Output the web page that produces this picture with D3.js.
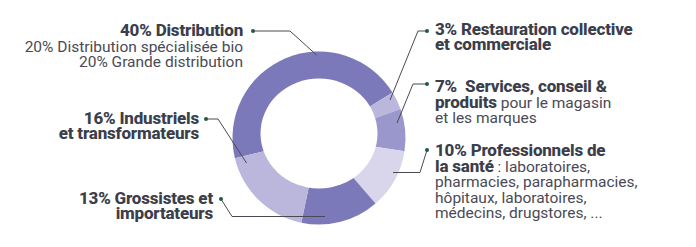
<!DOCTYPE html>
<html>
<head>
<meta charset="utf-8">
<script src="https://cdn.jsdelivr.net/npm/d3@7"></script>
<style>
  html, body { margin: 0; padding: 0; background: #fff; }
  svg { display: block; }
  svg text { white-space: pre; }
</style>
</head>
<body>
<div id="chart"></div>
<script>
// Customer segments (share of sales, %)
const categories = [
  "Distribution",
  "Restauration collective et commerciale",
  "Services, conseil & produits",
  "Professionnels de la santé",
  "Grossistes et importateurs",
  "Industriels et transformateurs"
];
const values = [40, 3, 7, 10, 13, 16];
const sliceColors = ["#7b79b9", "#bab6dc", "#9a97cc", "#d9d6ec", "#7b79b9", "#bab6dc"];

// Label text, line by line; each line is a list of [text, bold] runs
const labelLines = [
  [[["40% Distribution", true]],
   [["20% Distribution spécialisée bio", false]],
   [["20% Grande distribution", false]]],
  [[["3% Restauration collective", true]],
   [["et commerciale", true]]],
  [[["7%  Services, conseil &", true]],
   [["produits", true], [" pour le magasin", false]],
   [["et les marques", false]]],
  [[["10% Professionnels de", true]],
   [["la santé", true], [" : laboratoires,", false]],
   [["pharmacies, parapharmacies,", false]],
   [["hôpitaux, laboratoires,", false]],
   [["médecins, drugstores, ...", false]]],
  [[["13% Grossistes et", true]],
   [["importateurs", true]]],
  [[["16% Industriels", true]],
   [["et transformateurs", true]]]
];

// Layout: text anchor point, first baseline, and leader polyline (dot -> elbow -> ring)
const layout = [
  { x: 243, y: 36,  anchor: "end",   lead: [[253, 31], [290, 31], [316.5, 55]] },
  { x: 435, y: 34.5, anchor: "start", lead: [[427, 31], [418, 31], [390, 100]] },
  { x: 435, y: 92,  anchor: "start", lead: [[427, 84], [413, 84], [397, 123]] },
  { x: 435, y: 156, anchor: "start", lead: [[427, 150], [420, 172.5], [393, 172.5]] },
  { x: 213, y: 203.5, anchor: "end", lead: [[221, 199], [232, 216.5], [325, 216.5]] },
  { x: 199, y: 123.5, anchor: "end", lead: [[206, 119], [218, 119], [246.5, 163]] }
];

const W = 696, H = 247;
const cx = 319, cy = 138, outerR = 86.5;
const lineH = 15.6;

const svg = d3.select("#chart").append("svg")
  .attr("width", W).attr("height", H)
  .attr("viewBox", `0 0 ${W} ${H}`);

const deg = Math.PI / 180;
const pie = d3.pie().sort(null).value(d => d)
  .startAngle(-103.5 * deg).endAngle(256.5 * deg);
const arc = d3.arc().innerRadius(0).outerRadius(outerR);

const ring = svg.append("g").attr("transform", `translate(${cx},${cy})`);
ring.selectAll("path.slice")
  .data(pie(values))
  .join("path")
  .attr("class", "slice")
  .attr("d", arc)
  .attr("fill", (d, i) => sliceColors[i]);

// Donut hole, sitting slightly above the centre of the ring
ring.append("ellipse")
  .attr("cx", 0).attr("cy", -4.5)
  .attr("rx", 58.5).attr("ry", 55)
  .attr("fill", "#fff");

// Leader lines
const line = d3.line();
svg.append("g").selectAll("path")
  .data(layout)
  .join("path")
  .attr("d", d => line(d.lead))
  .attr("fill", "none")
  .attr("stroke", "#4a4a52")
  .attr("stroke-width", 1);

svg.append("g").selectAll("circle")
  .data(layout)
  .join("circle")
  .attr("cx", d => d.lead[0][0])
  .attr("cy", d => d.lead[0][1])
  .attr("r", 2)
  .attr("fill", "#1e5a44");

// Labels
const labels = svg.append("g")
  .attr("font-family", "Roboto, 'Noto Sans', sans-serif")
  .attr("font-size", 15.5);

labelLines.forEach((lines, i) => {
  const L = layout[i];
  const t = labels.append("text")
    .attr("text-anchor", L.anchor);
  lines.forEach((runs, j) => {
    runs.forEach((run, k) => {
      const ts = t.append("tspan").text(run[0]);
      if (k === 0) ts.attr("x", L.x).attr("y", L.y + j * lineH);
      if (run[1]) {
        ts.attr("font-weight", 800).attr("fill", "#3b3e4b")
          .attr("font-size", 17).attr("letter-spacing", -0.2);
      } else {
        ts.attr("font-weight", 400).attr("fill", "#4a4a55");
      }
    });
  });
});
</script>
</body>
</html>
